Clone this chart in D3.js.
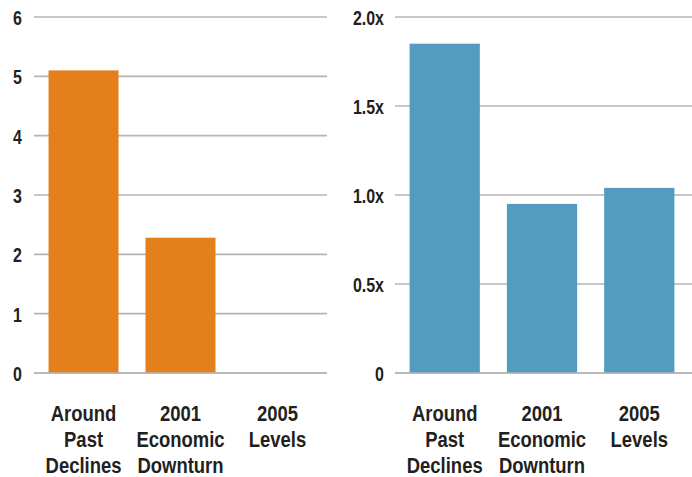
<!DOCTYPE html>
<html>
<head>
<meta charset="utf-8">
<script src="https://cdn.jsdelivr.net/npm/d3@7"></script>
<style>
  html, body { margin: 0; padding: 0; background: #fff; }
  svg text { font-family: "Liberation Sans Narrow", "Arial Narrow", "Liberation Sans", Arial, sans-serif; font-weight: bold; fill: #231f20; }
</style>
</head>
<body>
<svg id="chart" width="692" height="477"></svg>
<script>
const categories = [["Around", "Past", "Declines"], ["2001", "Economic", "Downturn"], ["2005", "Levels"]];
const categoryKeys = ["Around Past Declines", "2001 Economic Downturn", "2005 Levels"];
const leftValues = [5.1, 2.28, 0];
const rightValues = [1.85, 0.95, 1.04];
const leftTicks = [0, 1, 2, 3, 4, 5, 6];
const rightTicks = [0, 0.5, 1.0, 1.5, 2.0];
const rightTickLabels = ["0", "0.5x", "1.0x", "1.5x", "2.0x"];

const svg = d3.select("#chart");
const FONT = '"Liberation Sans", Arial, sans-serif';

function panel(opts) {
  const g = svg.append("g");
  const y = d3.scaleLinear().domain(opts.domain).range([373, 17]);
  const x = d3.scaleBand().domain(categoryKeys).range(opts.xRange).paddingInner(0.278).paddingOuter(0.15);

  // gridlines
  g.selectAll("line.grid").data(opts.ticks).enter().append("line")
    .attr("class", "grid")
    .attr("x1", opts.gridX[0]).attr("x2", opts.gridX[1])
    .attr("y1", d => y(d)).attr("y2", d => y(d))
    .attr("stroke", "#b4b4b6").attr("stroke-width", 1.6);

  // y axis labels via d3 axis
  const axis = d3.axisLeft(y).tickValues(opts.ticks).tickSize(0).tickPadding(0)
    .tickFormat((d, i) => opts.labels[i]);
  const ag = g.append("g").attr("transform", `translate(${opts.labelX},0)`).call(axis);
  ag.select(".domain").remove();
  ag.selectAll("text")
    .attr("font-size", 20.5).attr("font-family", null).attr("x", 0).attr("dy", "0.36em")
    .attr("transform", "scale(0.78,1)")
    .style("font-family", FONT)
    .style("font-weight", "bold").attr("fill", "#231f20");

  // bars
  g.selectAll("rect.bar").data(opts.values).enter().append("rect")
    .attr("class", "bar")
    .attr("x", (d, i) => x(categoryKeys[i]))
    .attr("width", x.bandwidth())
    .attr("y", d => y(d))
    .attr("height", d => y(0) - y(d))
    .attr("fill", opts.color);

  // baseline redraw over bars
  g.append("line")
    .attr("x1", opts.gridX[0]).attr("x2", opts.gridX[1])
    .attr("y1", y(0)).attr("y2", y(0))
    .attr("stroke", "#b4b4b6").attr("stroke-width", 1.6);

  // category labels
  categories.forEach((lines, i) => {
    const cx = x(categoryKeys[i]) + x.bandwidth() / 2;
    const t = g.append("text")
      .attr("text-anchor", "middle")
      .attr("font-size", 22)
      .style("font-family", FONT)
      .attr("transform", `translate(${cx},0) scale(0.84,1)`);
    lines.forEach((ln, j) => {
      t.append("tspan")
        .attr("x", 0)
        .attr("y", 421 + j * 26)
        .text(ln);
    });
  });
}

panel({
  domain: [0, 6], ticks: leftTicks, labels: leftTicks.map(String),
  values: leftValues, color: "#e3801c",
  xRange: [34, 327], gridX: [34, 327], labelX: 22
});

panel({
  domain: [0, 2], ticks: rightTicks, labels: rightTickLabels,
  values: rightValues, color: "#529dbf",
  xRange: [395, 689], gridX: [395, 692], labelX: 384
});
</script>
</body>
</html>
